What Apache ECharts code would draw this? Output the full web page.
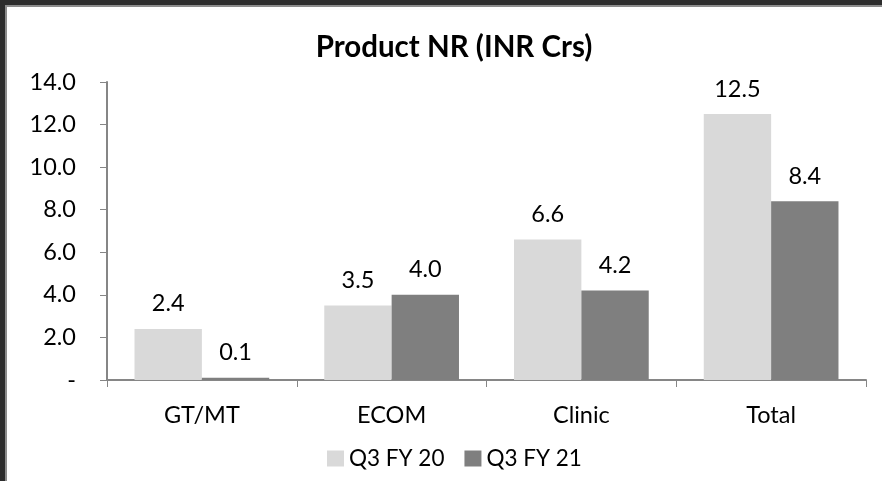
<!DOCTYPE html>
<html>
<head>
<meta charset="utf-8">
<script src="https://cdn.jsdelivr.net/npm/echarts@6/dist/echarts.min.js"></script>
<style>
html,body{margin:0;padding:0;background:#fff;}
#c{width:882px;height:481px;}
</style>
</head>
<body>
<div id="c"></div>
<script>
var categories = ['GT/MT', 'ECOM', 'Clinic', 'Total'];
var seriesNames = ['Q3 FY 20', 'Q3 FY 21'];
var q3fy20 = [2.4, 3.5, 6.6, 12.5];
var q3fy21 = [0.1, 4.0, 4.2, 8.4];
var yTicks = [0, 2, 4, 6, 8, 10, 12, 14];

var FONT = 'Lato';
var chart = echarts.init(document.getElementById('c'), null, {renderer: 'canvas'});
var labelCfg = {
  show: true, position: 'top', distance: 13,
  color: '#000', fontFamily: FONT, fontSize: 23.5,
  formatter: function (p) { return p.value.toFixed(1); }
};
chart.setOption({
  animation: false,
  backgroundColor: '#fff',
  title: {
    text: 'Product NR (INR Crs)',
    left: 449, top: 27, textAlign: 'center',
    textStyle: {fontFamily: FONT, fontWeight: 'bold', fontSize: 29.5, color: '#000'}
  },
  graphic: [
    {type: 'rect', shape: {x: 0, y: 0, width: 882, height: 5}, style: {fill: '#2d2d2d'}},
    {type: 'rect', shape: {x: 0, y: 0, width: 5, height: 481}, style: {fill: '#2d2d2d'}},
    {type: 'rect', shape: {x: 5, y: 5, width: 877, height: 2}, style: {fill: '#8c8c8c'}},
    {type: 'rect', shape: {x: 5, y: 5, width: 2, height: 476}, style: {fill: '#8c8c8c'}}
  ],
  legend: {
    data: seriesNames,
    left: 322, top: 442,
    itemWidth: 17, itemHeight: 16, itemGap: 20,
    icon: 'rect',
    textStyle: {fontFamily: FONT, fontSize: 22.5, color: '#000'}
  },
  grid: {left: 107, right: 16, top: 82, bottom: 101, containLabel: false},
  xAxis: {
    type: 'category', data: categories,
    axisLine: {lineStyle: {color: '#868686', width: 2}},
    axisTick: {show: true, length: 7, lineStyle: {color: '#868686', width: 1}},
    axisLabel: {fontFamily: FONT, fontSize: 23.5, color: '#000', margin: 23}
  },
  yAxis: {
    type: 'value', min: 0, max: 14, interval: 2,
    splitLine: {show: false},
    axisLine: {show: true, lineStyle: {color: '#868686', width: 2}},
    axisTick: {show: true, length: 7, lineStyle: {color: '#868686', width: 1}},
    axisLabel: {
      fontFamily: FONT, fontSize: 23.5, color: '#000', margin: 31,
      formatter: function (v) { return v === 0 ? '-' : v.toFixed(1); }
    }
  },
  series: [
    {name: seriesNames[0], type: 'bar', data: q3fy20, barGap: '0%', barCategoryGap: '29%',
     itemStyle: {color: '#d9d9d9'}, label: labelCfg},
    {name: seriesNames[1], type: 'bar', data: q3fy21, barGap: '0%', barCategoryGap: '29%',
     itemStyle: {color: '#7f7f7f'}, label: labelCfg}
  ]
});
</script>
</body>
</html>
